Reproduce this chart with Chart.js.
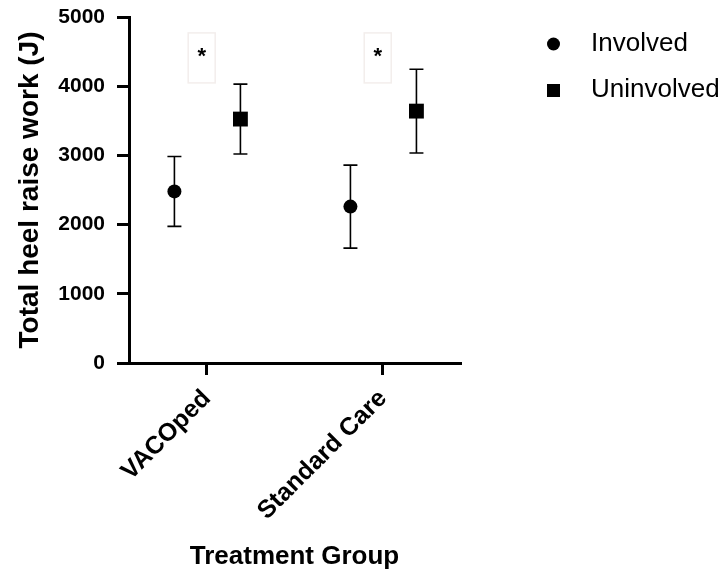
<!DOCTYPE html>
<html>
<head>
<meta charset="utf-8">
<script src="https://cdn.jsdelivr.net/npm/chart.js@4"></script>
<style>
  html, body { margin: 0; padding: 0; background: #fff; }
  #wrap { width: 724px; height: 575px; }
</style>
</head>
<body>
<div id="wrap"><canvas id="chart" width="724" height="575"></canvas></div>
<script>
// --- data ---
const categories = ['VACOped', 'Standard Care'];
const seriesNames = ['Involved', 'Uninvolved'];
const involvedMean = [2480, 2260];
const involvedErr  = [505, 600];
const uninvolvedMean = [3525, 3640];
const uninvolvedErr  = [505, 605];
const yTicks = [0, 1000, 2000, 3000, 4000, 5000];
const sigMarks = ['*', '*'];       // one per category
const sigLevel = 4510;             // y value where the asterisk sits

// horizontal offset of each series inside a group (category units)
const groupOffset = [-0.185, 0.19];

const FONT = "'Liberation Sans', Arial, Helvetica, sans-serif";

function points(means, off) {
  return means.map((v, i) => ({ x: i + off, y: v }));
}

// error bars with caps, drawn under the markers
const errorBars = {
  id: 'errorBars',
  beforeDatasetsDraw(chart) {
    const { ctx, scales: { x, y } } = chart;
    const errs = [involvedErr, uninvolvedErr];
    ctx.save();
    ctx.strokeStyle = '#000';
    ctx.lineWidth = 1.6;
    chart.data.datasets.forEach((ds, di) => {
      ds.data.forEach((p, i) => {
        const px = x.getPixelForValue(p.x);
        const top = y.getPixelForValue(p.y + errs[di][i]);
        const bot = y.getPixelForValue(p.y - errs[di][i]);
        ctx.beginPath();
        ctx.moveTo(px, top); ctx.lineTo(px, bot);
        ctx.moveTo(px - 7, top); ctx.lineTo(px + 7, top);
        ctx.moveTo(px - 7, bot); ctx.lineTo(px + 7, bot);
        ctx.stroke();
      });
    });
    ctx.restore();
  }
};

// significance asterisks with their faint boxes
const sigPlugin = {
  id: 'sig',
  afterDraw(chart) {
    const { ctx, scales: { x, y } } = chart;
    ctx.save();
    sigMarks.forEach((m, i) => {
      const px = x.getPixelForValue(i - 0.03);
      const py = y.getPixelForValue(sigLevel);
      ctx.strokeStyle = '#f3eeec';
      ctx.lineWidth = 1.5;
      ctx.strokeRect(px - 13.5, py - 18, 27, 50);
      ctx.fillStyle = '#000';
      ctx.font = `bold 22px ${FONT}`;
      ctx.textAlign = 'center';
      ctx.textBaseline = 'middle';
      ctx.fillText(m, px, py + 6);
    });
    ctx.restore();
  }
};

// legend drawn at right
const legendPlugin = {
  id: 'sideLegend',
  afterDraw(chart) {
    const { ctx } = chart;
    ctx.save();
    chart.data.datasets.forEach((ds, i) => {
      const cy = 44 + i * 46;
      ctx.fillStyle = '#000';
      if (ds.pointStyle === 'circle') {
        ctx.beginPath(); ctx.arc(553.5, cy, 6.5, 0, Math.PI * 2); ctx.fill();
      } else {
        ctx.fillRect(547, cy - 6, 13, 13);
      }
      ctx.font = `26px ${FONT}`;
      ctx.textAlign = 'left';
      ctx.textBaseline = 'middle';
      ctx.fillText(ds.label, 591, cy);
    });
    ctx.restore();
  }
};

new Chart(document.getElementById('chart'), {
  type: 'scatter',
  data: {
    datasets: [
      { label: seriesNames[0], data: points(involvedMean, groupOffset[0]),
        pointStyle: 'circle', pointRadius: 7, backgroundColor: '#000', borderColor: '#000', borderWidth: 0 },
      { label: seriesNames[1], data: points(uninvolvedMean, groupOffset[1]),
        pointStyle: 'rect', pointRadius: 10.5, backgroundColor: '#000', borderColor: '#000', borderWidth: 0 }
    ]
  },
  options: {
    responsive: false,
    animation: false,
    layout: { padding: { left: 0, top: 17, right: 264, bottom: 0 } },
    plugins: { legend: { display: false }, tooltip: { enabled: false } },
    scales: {
      x: {
        type: 'linear',
        min: -0.443, max: 1.4375,
        afterBuildTicks: (s) => { s.ticks = categories.map((c, i) => ({ value: i })); },
        afterFit: (s) => { s.height = 212; s.paddingLeft = 0; s.paddingRight = 0; },
        grid: { drawOnChartArea: false, color: '#000', lineWidth: 3, tickLength: 12, tickWidth: 3 },
        border: { color: '#000', width: 3 },
        ticks: {
          autoSkip: false, minRotation: 45, maxRotation: 45, padding: 9,
          color: '#000', font: { family: FONT, size: 25, weight: 'bold' },
          callback: (v) => categories[v] ?? ''
        },
        title: {
          display: true, text: 'Treatment Group', color: '#000',
          font: { family: FONT, size: 26, weight: 'bold' },
          padding: { top: 0, bottom: 3 }
        }
      },
      y: {
        min: 0, max: 5000,
        afterBuildTicks: (s) => { s.ticks = yTicks.map(v => ({ value: v })); },
        afterFit: (s) => { s.width = 129; s.paddingTop = 0; s.paddingBottom = 0; },
        grid: { drawOnChartArea: false, color: '#000', lineWidth: 3, tickLength: 12, tickWidth: 3 },
        border: { color: '#000', width: 3 },
        ticks: {
          padding: 12, color: '#000',
          font: { family: FONT, size: 21, weight: 'bold' },
          callback: (v) => String(v)
        },
        title: {
          display: true, text: 'Total heel raise work (J)', color: '#000',
          font: { family: FONT, size: 28, weight: 'bold' },
          padding: { top: 13, bottom: 0 }
        }
      }
    }
  },
  plugins: [errorBars, sigPlugin, legendPlugin]
});
</script>
</body>
</html>
